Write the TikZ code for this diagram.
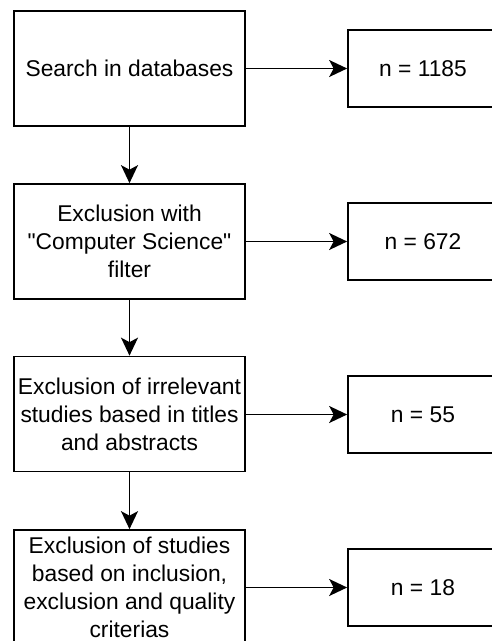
\documentclass[tikz,border=0pt]{standalone}
\usepackage{fontspec}
\setmainfont{Liberation Sans}
\usetikzlibrary{arrows.meta}
\begin{document}
\begin{tikzpicture}[x=1pt,y=-1pt,
  every node/.style={font=\fontsize{22.8}{28}\selectfont, text=black},
  stepbox/.style={draw, line width=1.7pt, minimum width=231pt, minimum height=115pt, align=center, inner sep=0pt},
  countbox/.style={draw, line width=1.7pt, minimum width=150pt, minimum height=77pt, align=center, inner sep=0pt},
  conn/.style={line width=1.6pt, -{Stealth[length=18pt,width=17pt,inset=4.5pt]}}]
\useasboundingbox (0,0) rectangle (492,641);
\clip (0,0) rectangle (492,641);
\node[stepbox] (s1) at (129.5,68.5) {Search in databases};
\node[stepbox] (s2) at (129.5,241.5) {Exclusion with\\\textquotedbl Computer Science\textquotedbl\\filter};
\node[stepbox] (s3) at (129.5,414) {Exclusion of irrelevant\\studies based in titles\\and abstracts};
\node[stepbox] (s4) at (129.5,587.5) {Exclusion of studies\\based on inclusion,\\exclusion and quality\\criterias};
\node[countbox] (n1) at (423,68.5) {n = 1185};
\node[countbox] (n2) at (423,241.5) {n = 672};
\node[countbox] (n3) at (423,414.5) {n = 55};
\node[countbox] (n4) at (423,587.5) {n = 18};
\draw[conn] (s1) -- (n1);
\draw[conn] (s2) -- (n2);
\draw[conn] (s3.east |- n3) -- (n3);
\draw[conn] (s4) -- (n4);
\draw[conn] (s1) -- (s2);
\draw[conn] (s2) -- (s3);
\draw[conn] (s3) -- (s4);
\end{tikzpicture}
\end{document}
